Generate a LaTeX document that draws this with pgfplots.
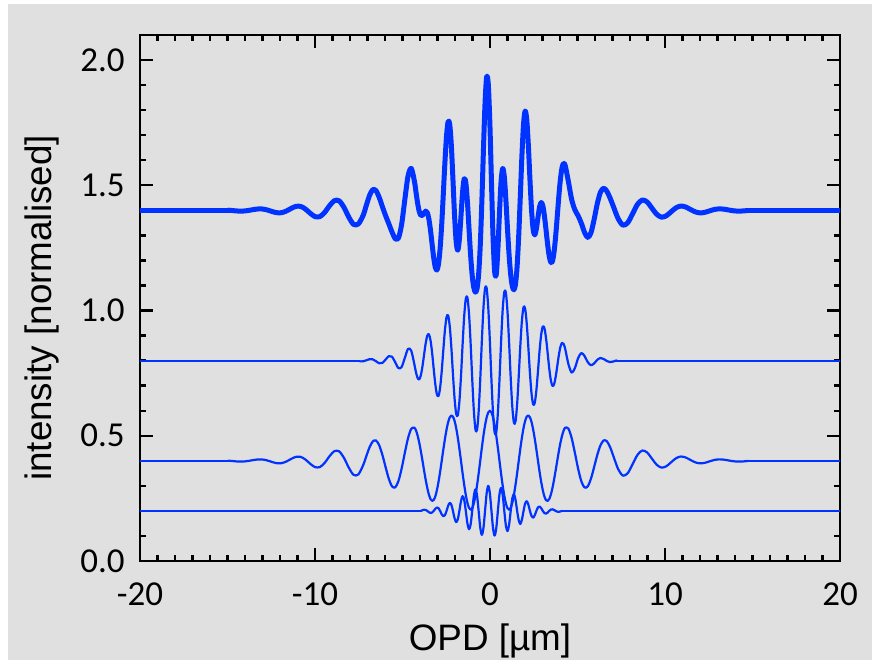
\documentclass[border=0pt]{standalone}
\usepackage{fontspec}
\setmainfont{Liberation Sans}
\newfontfamily\tickfont{Carlito}
\usepackage{pgfplots}
\pgfplotsset{compat=1.18}

\definecolor{bggray}{RGB}{224,224,224}
\definecolor{fringe}{RGB}{0,51,255}

\tikzset{
  thinfringe/.style={fringe, line width=1.1pt, smooth, line cap=round, line join=round},
  thickfringe/.style={fringe, line width=2.5pt, smooth, line cap=round, line join=round},
  flatthin/.style={fringe, line width=1.1pt, line cap=round},
  flatthick/.style={fringe, line width=2.5pt, line cap=round},
}

\begin{document}
\begin{tikzpicture}
% page background (white strip at top and left, grey panel)
\fill[white] (-70pt,-49.5pt) rectangle (366pt,280.5pt);
\fill[bggray] (-66pt,-49.5pt) rectangle (366pt,278.5pt);

\begin{axis}[
    at={(0,0)}, anchor=south west,
    scale only axis, width=350pt, height=263pt,
    xmin=-20, xmax=20, ymin=0, ymax=2.1,
    xtick={-20,-10,0,10,20}, xticklabels={-20,-10,0,10,20},
    ytick={0,0.5,1,1.5,2}, yticklabels={0.0,0.5,1.0,1.5,2.0},
    minor x tick num=9, minor y tick num=4,
    tick align=inside,
    major tick length=6.3pt, minor tick length=3pt,
    every tick/.style={black, line width=1.2pt},
    axis line style={black, line width=1.4pt},
    ticklabel style={font=\tickfont\fontsize{17.5}{20}\selectfont, inner sep=0pt},
    xticklabel style={yshift=-10.5pt},
    yticklabel style={xshift=-7.5pt},
    xlabel={OPD [µm]},
    ylabel={intensity [normalised]},
    label style={font=\fontsize{18.4}{22}\selectfont},
    xlabel style={at={(rel axis cs:0.5,-0.1692)}, anchor=base},
    ylabel style={at={(rel axis cs:-0.1271,0.481)}, anchor=base},
]

% flat tails
\addplot[flatthin] coordinates {(-20,0.2)(-3.95,0.2)};
\addplot[flatthin] coordinates {(4.117,0.2)(20,0.2)};
\addplot[flatthin] coordinates {(-20,0.4)(-14.95,0.4)};
\addplot[flatthin] coordinates {(14.75,0.4)(20,0.4)};
\addplot[flatthin] coordinates {(-20,0.8)(-7.433,0.8)};
\addplot[flatthin] coordinates {(7.233,0.8)(20,0.8)};
\addplot[flatthick] coordinates {(-20,1.4)(-14.95,1.4)};
\addplot[flatthick] coordinates {(14.75,1.4)(20,1.4)};

% short-period interferogram, offset 0.2
\addplot[thinfringe] coordinates {
(-3.950,0.2000)(-3.858,0.2028)(-3.767,0.2046)(-3.675,0.2038)(-3.583,0.2000)(-3.492,0.1949)
(-3.400,0.1918)(-3.308,0.1934)(-3.217,0.2000)(-3.125,0.2085)(-3.033,0.2137)(-2.942,0.2109)
(-2.850,0.2000)(-2.758,0.1864)(-2.667,0.1785)(-2.575,0.1832)(-2.483,0.2000)(-2.392,0.2205)
(-2.300,0.2318)(-2.208,0.2246)(-2.117,0.2000)(-2.025,0.1709)(-1.933,0.1555)(-1.842,0.1661)
(-1.750,0.2000)(-1.658,0.2390)(-1.567,0.2588)(-1.475,0.2442)(-1.383,0.2000)(-1.292,0.1507)
(-1.200,0.1268)(-1.108,0.1458)(-1.017,0.2000)(-0.925,0.2588)(-0.833,0.2861)(-0.742,0.2628)
(-0.650,0.2000)(-0.558,0.1339)(-0.467,0.1046)(-0.375,0.1314)(-0.283,0.2000)(-0.192,0.2702)
(-0.100,0.2998)(-0.008,0.2707)(0.083,0.2000)(0.175,0.1298)(0.267,0.1015)(0.358,0.1312)
(0.450,0.2000)(0.542,0.2664)(0.633,0.2917)(0.725,0.2631)(0.817,0.2000)(0.908,0.1409)
(1.000,0.1195)(1.092,0.1454)(1.183,0.2000)(1.275,0.2497)(1.367,0.2668)(1.458,0.2446)
(1.550,0.2000)(1.642,0.1625)(1.733,0.1478)(1.825,0.1656)(1.917,0.2000)(2.008,0.2296)
(2.100,0.2385)(2.192,0.2250)(2.283,0.2000)(2.375,0.1791)(2.467,0.1732)(2.558,0.1828)
(2.650,0.2000)(2.742,0.2139)(2.833,0.2176)(2.925,0.2111)(3.017,0.2000)(3.108,0.1913)
(3.200,0.1891)(3.292,0.1932)(3.383,0.2000)(3.475,0.2052)(3.567,0.2064)(3.658,0.2039)
(3.750,0.2000)(3.842,0.1971)(3.933,0.1965)(4.025,0.1979)(4.117,0.2000)
};

% long-period interferogram, offset 0.4
\addplot[thinfringe] coordinates {
(-14.950,0.4005)(-14.675,0.3988)(-14.400,0.3972)(-14.125,0.3970)(-13.850,0.3990)(-13.575,0.4023)
(-13.300,0.4052)(-13.025,0.4054)(-12.750,0.4019)(-12.475,0.3958)(-12.200,0.3907)(-11.925,0.3905)
(-11.650,0.3968)(-11.375,0.4071)(-11.100,0.4156)(-10.825,0.4158)(-10.550,0.4053)(-10.275,0.3884)
(-10.000,0.3749)(-9.725,0.3749)(-9.450,0.3916)(-9.175,0.4179)(-8.900,0.4384)(-8.625,0.4380)
(-8.350,0.4125)(-8.075,0.3736)(-7.800,0.3442)(-7.525,0.3455)
(-7.250,0.3823)(-7.067,0.4187)(-6.883,0.4538)(-6.700,0.4773)(-6.517,0.4812)(-6.333,0.4624)
(-6.150,0.4239)(-5.967,0.3750)(-5.783,0.3285)(-5.600,0.2981)(-5.417,0.2938)(-5.233,0.3191)
(-5.050,0.3692)(-4.867,0.4319)(-4.683,0.4904)(-4.500,0.5278)(-4.317,0.5321)(-4.225,0.5203)
(-4.133,0.4998)(-4.042,0.4717)
(-3.950,0.4376)(-3.858,0.4000)(-3.767,0.3613)(-3.675,0.3241)(-3.583,0.2912)(-3.492,0.2650)
(-3.400,0.2474)(-3.308,0.2400)(-3.217,0.2436)(-3.125,0.2581)(-3.033,0.2828)(-2.942,0.3162)
(-2.850,0.3561)(-2.758,0.4000)(-2.667,0.4448)(-2.575,0.4873)(-2.483,0.5247)(-2.392,0.5541)
(-2.300,0.5734)(-2.208,0.5811)(-2.117,0.5763)(-2.025,0.5593)(-1.933,0.5310)(-1.842,0.4933)
(-1.750,0.4486)(-1.658,0.4000)(-1.567,0.3508)(-1.475,0.3043)(-1.383,0.2640)(-1.292,0.2326)
(-1.200,0.2124)(-1.108,0.2050)(-1.017,0.2108)(-0.925,0.2298)(-0.833,0.2606)(-0.742,0.3011)
(-0.650,0.3487)(-0.558,0.4000)(-0.467,0.4515)(-0.375,0.4997)(-0.283,0.5412)(-0.192,0.5731)
(-0.100,0.5931)(-0.008,0.6000)(0.083,0.5932)(0.175,0.5731)(0.267,0.5412)(0.358,0.4997)
(0.450,0.4515)(0.542,0.4000)(0.633,0.3487)(0.725,0.3011)(0.817,0.2605)(0.908,0.2297)
(1.000,0.2107)(1.092,0.2048)(1.183,0.2123)(1.275,0.2325)(1.367,0.2639)(1.458,0.3042)
(1.550,0.3507)(1.642,0.4000)(1.733,0.4487)(1.825,0.4934)(1.917,0.5312)(2.008,0.5595)
(2.100,0.5766)(2.192,0.5813)(2.283,0.5737)(2.375,0.5544)(2.467,0.5249)(2.558,0.4875)
(2.650,0.4449)(2.742,0.4000)(2.833,0.3561)(2.925,0.3160)(3.017,0.2826)(3.108,0.2578)
(3.200,0.2433)(3.292,0.2397)(3.383,0.2471)(3.475,0.2646)(3.567,0.2909)(3.658,0.3239)
(3.750,0.3612)(3.842,0.4000)(3.933,0.4377)(4.025,0.4719)(4.117,0.5001)(4.208,0.5207)
(4.300,0.5325)
(4.483,0.5282)(4.667,0.4907)(4.850,0.4320)(5.033,0.3691)(5.217,0.3188)(5.400,0.2935)
(5.583,0.2978)(5.767,0.3283)(5.950,0.3749)(6.133,0.4240)(6.317,0.4626)(6.500,0.4816)
(6.683,0.4776)(6.867,0.4540)(7.050,0.4188)
(7.325,0.3665)(7.600,0.3406)(7.875,0.3511)(8.150,0.3867)(8.425,0.4235)(8.700,0.4412)
(8.975,0.4335)(9.250,0.4090)(9.525,0.3843)(9.800,0.3728)(10.075,0.3782)(10.350,0.3942)
(10.625,0.4100)(10.900,0.4171)(11.175,0.4135)(11.450,0.4036)(11.725,0.3940)(12.000,0.3898)
(12.275,0.3920)(12.550,0.3979)(12.825,0.4035)(13.100,0.4058)(13.375,0.4045)(13.650,0.4012)
(13.925,0.3981)(14.200,0.3969)(14.475,0.3976)(14.750,0.3994)
};

% medium-period interferogram, offset 0.8
\addplot[thinfringe] coordinates {
(-7.433,0.7970)(-7.250,0.7973)(-7.067,0.8012)(-6.883,0.8057)(-6.700,0.8051)(-6.517,0.7977)
(-6.333,0.7896)(-6.150,0.7908)(-5.967,0.8040)(-5.783,0.8180)(-5.600,0.8157)(-5.417,0.7932)
(-5.233,0.7702)(-5.050,0.7745)(-4.867,0.8109)(-4.683,0.8469)(-4.500,0.8395)(-4.317,0.7835)
(-4.225,0.7518)(-4.133,0.7299)(-4.042,0.7254)
(-3.950,0.7419)(-3.858,0.7774)(-3.767,0.8239)(-3.675,0.8691)(-3.583,0.8998)(-3.492,0.9053)
(-3.400,0.8812)(-3.308,0.8313)(-3.217,0.7671)(-3.125,0.7057)(-3.033,0.6650)(-2.942,0.6588)
(-2.850,0.6919)(-2.758,0.7587)(-2.667,0.8430)(-2.575,0.9223)(-2.483,0.9736)(-2.392,0.9802)
(-2.300,0.9367)(-2.208,0.8518)(-2.117,0.7465)(-2.025,0.6491)(-1.933,0.5876)(-1.842,0.5814)
(-1.750,0.6355)(-1.658,0.7382)(-1.567,0.8633)(-1.475,0.9771)(-1.383,1.0472)(-1.292,1.0523)
(-1.200,0.9882)(-1.108,0.8701)(-1.017,0.7287)(-0.925,0.6024)(-0.833,0.5265)(-0.742,0.5232)
(-0.650,0.5952)(-0.558,0.7243)(-0.467,0.8762)(-0.375,1.0097)(-0.283,1.0879)(-0.192,1.0889)
(-0.100,1.0120)(-0.008,0.8776)(0.083,0.7224)(0.175,0.5884)(0.267,0.5119)(0.358,0.5133)
(0.450,0.5914)(0.542,0.7242)(0.633,0.8751)(0.725,1.0031)(0.817,1.0742)(0.908,1.0706)
(1.000,0.9952)(1.092,0.8703)(1.183,0.7309)(1.275,0.6147)(1.367,0.5519)(1.458,0.5571)
(1.550,0.6262)(1.642,0.7379)(1.733,0.8605)(1.825,0.9609)(1.917,1.0136)(2.008,1.0073)
(2.100,0.9471)(2.192,0.8521)(2.283,0.7496)(2.375,0.6672)(2.467,0.6252)(2.558,0.6317)
(2.650,0.6816)(2.742,0.7584)(2.833,0.8399)(2.925,0.9042)(3.017,0.9361)(3.108,0.9299)
(3.200,0.8906)(3.292,0.8316)(3.383,0.7700)(3.475,0.7222)(3.567,0.6993)(3.658,0.7046)
(3.750,0.7340)(3.842,0.7772)(3.933,0.8215)(4.025,0.8552)(4.117,0.8709)(4.208,0.8666)
(4.300,0.8457)
(4.483,0.7854)(4.667,0.7525)(4.850,0.7699)(5.033,0.8095)(5.217,0.8302)(5.400,0.8188)
(5.583,0.7942)(5.767,0.7817)(5.950,0.7888)(6.133,0.8034)(6.317,0.8105)(6.500,0.8064)
(6.683,0.7981)(6.867,0.7942)(7.050,0.7966)(7.233,0.8010)
};

% sum of the three, offset 1.4
\addplot[thickfringe] coordinates {
(-14.950,1.4005)(-14.675,1.3988)(-14.400,1.3972)(-14.125,1.3970)(-13.850,1.3990)(-13.575,1.4023)
(-13.300,1.4052)(-13.025,1.4054)(-12.750,1.4019)(-12.475,1.3958)(-12.200,1.3907)(-11.925,1.3905)
(-11.650,1.3968)(-11.375,1.4071)(-11.100,1.4156)(-10.825,1.4158)(-10.550,1.4053)(-10.275,1.3884)
(-10.000,1.3749)(-9.725,1.3749)(-9.450,1.3916)(-9.175,1.4179)(-8.900,1.4384)(-8.625,1.4380)
(-8.350,1.4125)(-8.075,1.3736)(-7.800,1.3442)(-7.525,1.3455)
(-7.250,1.3796)(-7.067,1.4199)(-6.883,1.4595)(-6.700,1.4824)(-6.517,1.4789)(-6.333,1.4520)
(-6.150,1.4147)(-5.967,1.3790)(-5.783,1.3465)(-5.600,1.3138)(-5.417,1.2870)(-5.233,1.2893)
(-5.050,1.3437)(-4.867,1.4428)(-4.683,1.5373)(-4.500,1.5673)(-4.317,1.5156)(-4.225,1.4706)
(-4.133,1.4272)(-4.042,1.3950)
(-3.950,1.3795)(-3.858,1.3802)(-3.767,1.3898)(-3.675,1.3970)(-3.583,1.3910)(-3.492,1.3652)
(-3.400,1.3204)(-3.308,1.2647)(-3.217,1.2107)(-3.125,1.1723)(-3.033,1.1615)(-2.942,1.1859)
(-2.850,1.2480)(-2.758,1.3451)(-2.667,1.4663)(-2.575,1.5928)(-2.483,1.6983)(-2.392,1.7548)
(-2.300,1.7419)(-2.208,1.6575)(-2.117,1.5228)(-2.025,1.3793)(-1.933,1.2741)(-1.842,1.2408)
(-1.750,1.2841)(-1.658,1.3772)(-1.567,1.4729)(-1.475,1.5256)(-1.383,1.5112)(-1.292,1.4356)
(-1.200,1.3274)(-1.108,1.2209)(-1.017,1.1395)(-0.925,1.0910)(-0.833,1.0732)(-0.742,1.0871)
(-0.650,1.1439)(-0.558,1.2582)(-0.467,1.4323)(-0.375,1.6408)(-0.283,1.8291)(-0.192,1.9322)
(-0.100,1.9049)(-0.008,1.7483)(0.083,1.5156)(0.175,1.2913)(0.267,1.1546)(0.358,1.1442)
(0.450,1.2429)(0.542,1.3906)(0.633,1.5155)(0.725,1.5673)(0.817,1.5347)(0.908,1.4412)
(1.000,1.3254)(1.092,1.2205)(1.183,1.1432)(1.275,1.0969)(1.367,1.0826)(1.458,1.1059)
(1.550,1.1769)(1.642,1.3004)(1.733,1.4570)(1.825,1.6199)(1.917,1.7448)(2.008,1.7964)
(2.100,1.7622)(2.192,1.6584)(2.283,1.5233)(2.375,1.4007)(2.467,1.3233)(2.558,1.3020)
(2.650,1.3265)(2.742,1.3723)(2.833,1.4136)(2.925,1.4313)(3.017,1.4187)(3.108,1.3790)
(3.200,1.3230)(3.292,1.2645)(3.383,1.2171)(3.475,1.1920)(3.567,1.1966)(3.658,1.2324)
(3.750,1.2952)(3.842,1.3743)(3.933,1.4557)(4.025,1.5250)(4.117,1.5710)(4.208,1.5873)
(4.300,1.5782)
(4.483,1.5136)(4.667,1.4432)(4.850,1.4019)(5.033,1.3786)(5.217,1.3490)(5.400,1.3123)
(5.583,1.2920)(5.767,1.3100)(5.950,1.3637)(6.133,1.4274)(6.317,1.4731)(6.500,1.4880)
(6.683,1.4757)(6.867,1.4482)(7.050,1.4154)
(7.325,1.3665)(7.600,1.3406)(7.875,1.3511)(8.150,1.3867)(8.425,1.4235)(8.700,1.4412)
(8.975,1.4335)(9.250,1.4090)(9.525,1.3843)(9.800,1.3728)(10.075,1.3782)(10.350,1.3942)
(10.625,1.4100)(10.900,1.4171)(11.175,1.4135)(11.450,1.4036)(11.725,1.3940)(12.000,1.3898)
(12.275,1.3920)(12.550,1.3979)(12.825,1.4035)(13.100,1.4058)(13.375,1.4045)(13.650,1.4012)
(13.925,1.3981)(14.200,1.3969)(14.475,1.3976)(14.750,1.3994)
};

\end{axis}
\end{tikzpicture}
\end{document}
